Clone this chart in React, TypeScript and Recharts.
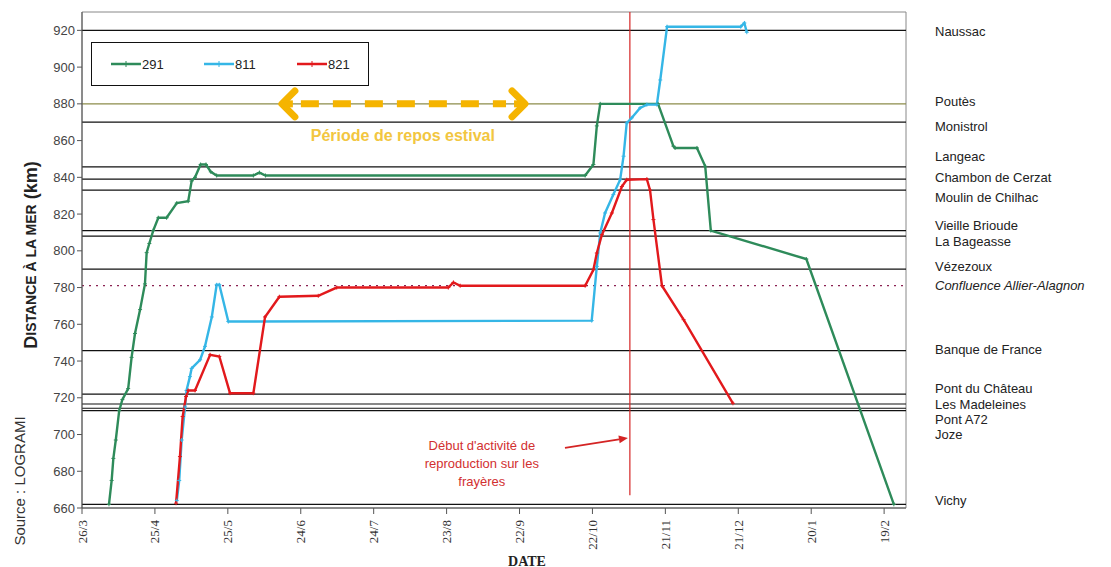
import React from "react"
import { LineChart, Line, XAxis, YAxis, ReferenceLine, ReferenceDot, ReferenceArea, Legend } from "recharts"

// x axis is "days since 26/3"
const tickDays = [0, 30, 60, 90, 120, 150, 180, 210, 240, 270, 300, 330]
const tickLabels = ["26/3", "25/4", "25/5", "24/6", "24/7", "23/8", "22/9", "22/10", "21/11", "21/12", "20/1", "19/2"]
const kmTicks = [660, 680, 700, 720, 740, 760, 780, 800, 820, 840, 860, 880, 900, 920]

const stations = [
  "Naussac", "Poutès", "Monistrol", "Langeac", "Chambon  de Cerzat", "Moulin  de Chilhac",
  "Vieille Brioude", "La Bageasse", "Vézezoux", "Confluence Allier-Alagnon", "Banque de France",
  "Pont du Château", "Les Madeleines", "Pont A72", "Joze", "Vichy",
]
const stationKm = [920, 880, 870, 845.7, 839, 833, 811, 808, 790, 781, 745.7, 722, 716.6, 714.3, 713, 662]
const stationLabelKm = [919.5, 881.5, 867.7, 851.3, 840.2, 829.3, 814.1, 805.1, 791.7, 781.1, 746.6, 725.3, 716.6, 708.4, 700.2, 664.4]

const fishIds = ["291", "811", "821"]
const fishColors = ["#2e8b5a", "#35b6e6", "#e2191c"]

const days291 = [11.1, 12.2, 12.9, 13.9, 15.3, 16.6, 19, 20.4, 21.8, 23.9, 25.9, 26.6, 27.7, 29.3, 31.4, 34.8, 39, 43.7, 45.1, 46.5, 48.8, 51, 53, 55.4, 70.5, 73, 75.5, 207, 210.4, 211.8, 213.2, 237, 243.3, 244, 253, 256.4, 258.7, 298, 334]
const km291 = [662, 675, 687, 697, 713, 719, 725, 742, 755, 768, 782, 799, 804, 811, 818, 818, 826, 827, 838, 840, 847, 847, 843, 841, 841, 842.6, 841, 841, 847, 868, 880, 880, 857, 856, 856, 846, 811, 795.5, 662]

const days811 = [39, 40, 41, 42.4, 43, 44.4, 45.1, 48.6, 50.6, 53.4, 55.4, 56.5, 60.2, 209.7, 211.8, 213.2, 215.2, 218.6, 221.4, 222.8, 224.1, 226.2, 229.6, 232.4, 236.5, 237.9, 240.7, 271, 272.5, 273.5]
const km811 = [664, 675, 697, 715, 724, 731.5, 736, 740.7, 748, 764, 781.5, 781.5, 761.5, 762, 791.5, 809.7, 820.6, 830.6, 838.7, 851.5, 869.6, 872.4, 877.8, 879.6, 879.6, 893, 922, 922, 924, 919]

const days821 = [38.7, 40.3, 41.4, 42.8, 43.7, 46.5, 52.7, 56.5, 60.9, 70.5, 75.3, 81.2, 97.2, 104.8, 150.7, 152.8, 155.6, 207, 210.4, 211.8, 213.9, 218, 222.1, 224.1, 232.4, 233.7, 235.1, 238.6, 247.5, 267.8]
const km821 = [662.6, 688, 709.8, 720.7, 724, 724, 743.4, 742.5, 722.5, 722.5, 764, 775, 775.5, 780, 780, 782.8, 781, 781, 789.7, 798.8, 808.8, 820.6, 835, 838.7, 839, 833, 817, 781, 762.5, 717]

// annotations
const restPeriod = [81, 183.5]
const restKm = 880
const restText = "Période de repos estival"
const spawnDay = 225.4
const noteLines = ["Début  d'activité de", "reproduction sur les", "frayères"]

const toPoints = (days: number[], km: number[]) => days.map((d, i) => ({ d, km: km[i] }))
const series = [toPoints(days291, km291), toPoints(days811, km811), toPoints(days821, km821)]

const plusDot = (color: string) => (p: any) => (
  <path
    key={`dot-${p.index}`}
    d={`M${p.cx - 2},${p.cy}H${p.cx + 2}M${p.cx},${p.cy - 2}V${p.cy + 2}`}
    stroke={color}
    strokeWidth={1}
  />
)

const DateTick = (p: any) => {
  const i = tickDays.indexOf(p.payload.value)
  const x = p.x
  const y = p.y + 4
  return (
    <text
      x={x}
      y={y}
      transform={`rotate(-90 ${x} ${y})`}
      textAnchor="end"
      dominantBaseline="central"
      fontFamily="'Liberation Serif', 'Times New Roman', serif"
      fontSize={13}
      fill="#333"
    >
      {tickLabels[i]}
    </text>
  )
}

const YTitle = () => (
  <g>
    <text
      x={31}
      y={255}
      transform="rotate(-90 31 255)"
      textAnchor="middle"
      dominantBaseline="central"
      fontWeight="bold"
      fill="#222"
    >
      <tspan fontSize={18}>D</tspan>
      <tspan fontSize={14}>ISTANCE À LA MER</tspan>
      <tspan fontSize={18}> (km)</tspan>
    </text>
    <text x={19} y={481} transform="rotate(-90 19 481)" textAnchor="middle" dominantBaseline="central" fontSize={15} fill="#333">
      Source : LOGRAMI
    </text>
  </g>
)

const XTitle = () => (
  <text x={527} y={561} textAnchor="middle" dominantBaseline="central" fontFamily="'Liberation Serif', serif" fontWeight="bold" fontSize={14} fill="#222">
    DATE
  </text>
)

const RestArrow = (p: any) => {
  const { x1, y1, x2 } = p
  const c = "#f5b400"
  return (
    <g>
      <line x1={x1 + 22} y1={y1} x2={x2 - 22} y2={y1} stroke={c} strokeWidth={7} strokeDasharray="18 14" />
      <line x1={x1 + 3} y1={y1} x2={x1 + 14} y2={y1} stroke={c} strokeWidth={7} />
      <line x1={x2 - 14} y1={y1} x2={x2 - 3} y2={y1} stroke={c} strokeWidth={7} />
      <polyline points={`${x1 + 16},${y1 - 13} ${x1 + 3},${y1} ${x1 + 16},${y1 + 13}`} fill="none" stroke={c} strokeWidth={7} strokeLinecap="round" strokeLinejoin="round" />
      <polyline points={`${x2 - 16},${y1 - 13} ${x2 - 3},${y1} ${x2 - 16},${y1 + 13}`} fill="none" stroke={c} strokeWidth={7} strokeLinecap="round" strokeLinejoin="round" />
    </g>
  )
}

const RedArrow = (p: any) => {
  const { x1, y1, x2, y2 } = p
  const ang = Math.atan2(y2 - y1, x2 - x1)
  const bx = x2 - 9 * Math.cos(ang)
  const by = y2 - 9 * Math.sin(ang)
  const px = -Math.sin(ang) * 4
  const py = Math.cos(ang) * 4
  return (
    <g>
      <line x1={x1} y1={y1} x2={bx} y2={by} stroke="#d42424" strokeWidth={1.8} />
      <polygon points={`${x2},${y2} ${bx + px},${by + py} ${bx - px},${by - py}`} fill="#d42424" />
    </g>
  )
}

const RestLabel = (p: any) => (
  <text x={p.viewBox.x} y={p.viewBox.y} textAnchor="middle" dominantBaseline="central" fontWeight="bold" fontSize={16} fill="#f2c640">
    {restText}
  </text>
)

const NoteLabel = (p: any) => {
  const x = p.viewBox.x
  const y = p.viewBox.y
  return (
    <text x={x} y={y} textAnchor="middle" fontSize={13} fill="#d23030">
      {noteLines.map((t, i) => (
        <tspan key={i} x={x} y={y + (i - 1) * 18} dominantBaseline="central">{t}</tspan>
      ))}
    </text>
  )
}

const renderLegend = (props: any) => {
  const items = (props.payload || []).filter((e: any) => fishIds.includes(e.value))
  const starts = [18, 111, 204]
  return (
    <div style={{ position: "relative", width: 278, height: 44, border: "1px solid #111", boxSizing: "border-box", background: "#fff", fontSize: 13, color: "#222" }}>
      {items.map((e: any, i: number) => (
        <div key={e.value} style={{ position: "absolute", left: starts[i], top: 12, display: "flex", alignItems: "center" }}>
          <svg width={32} height={18}>
            <line x1={1} y1={9} x2={31} y2={9} stroke={e.color} strokeWidth={2.5} />
            <line x1={16} y1={6} x2={16} y2={12} stroke={e.color} strokeWidth={1} />
          </svg>
          <span>{e.value}</span>
        </div>
      ))}
    </div>
  )
}

export default function App() {
  return (
    <div style={{ position: "absolute", left: 0, top: 0, width: 1111, height: 567, background: "#fff", fontFamily: "'Liberation Sans', Arial, sans-serif" }}>
      <LineChart width={1111} height={567} margin={{ top: 12, right: 205, bottom: 19, left: 32 }}>
        <XAxis
          type="number"
          dataKey="d"
          domain={[0, 339]}
          ticks={tickDays}
          interval={0}
          allowDataOverflow
          height={40}
          tick={<DateTick />}
          tickSize={6}
          axisLine={{ stroke: "#555" }}
          tickLine={{ stroke: "#555" }}
          label={<XTitle />}
        />
        <YAxis
          type="number"
          domain={[660, 930]}
          ticks={kmTicks}
          interval={0}
          allowDataOverflow
          width={50}
          tickSize={5}
          tick={{ fontSize: 13, fill: "#444" }}
          axisLine={{ stroke: "#555" }}
          tickLine={{ stroke: "#555" }}
          label={<YTitle />}
        />
        <ReferenceArea x1={0} x2={339} y1={660} y2={930} fill="none" stroke="#888" strokeWidth={1} />
        {stations.map((name, i) => (
          <ReferenceLine
            key={`line-${name}`}
            y={stationKm[i]}
            stroke={i === 1 ? "#8c8c4a" : i === 9 ? "#8b2252" : "#111"}
            strokeWidth={i === 9 ? 1.3 : 1.2}
            strokeDasharray={i === 9 ? "2 5" : undefined}
          />
        ))}
        {stations.map((name, i) => (
          <ReferenceLine
            key={`lab-${name}`}
            y={stationLabelKm[i]}
            stroke="none"
            label={{ value: name, position: "right", offset: 29, fill: "#222", fontSize: 13, fontStyle: i === 9 ? "italic" : "normal" }}
          />
        ))}
        <ReferenceLine segment={[{ x: spawnDay, y: 667 }, { x: spawnDay, y: 930 }]} stroke="#d42424" strokeWidth={1.2} />
        <ReferenceLine segment={[{ x: restPeriod[0], y: restKm }, { x: restPeriod[1], y: restKm }]} shape={RestArrow} />
        <ReferenceDot x={132} y={863} r={0} fill="none" stroke="none" label={<RestLabel />} />
        <ReferenceDot x={164.5} y={684} r={0} fill="none" stroke="none" label={<NoteLabel />} />
        <ReferenceLine segment={[{ x: 198.7, y: 692.7 }, { x: 224.6, y: 698.1 }]} shape={RedArrow} />
        {series.map((pts, i) => (
          <Line
            key={fishIds[i]}
            data={pts}
            dataKey="km"
            name={fishIds[i]}
            type="linear"
            stroke={fishColors[i]}
            strokeWidth={2.4}
            dot={plusDot(fishColors[i])}
            activeDot={false}
            isAnimationActive={false}
          />
        ))}
        <Legend
          layout="horizontal"
          verticalAlign="middle"
          align="center"
          content={renderLegend}
          wrapperStyle={{ position: "absolute", left: 91, top: 42, width: 278, height: 44 }}
        />
      </LineChart>
    </div>
  )
}
